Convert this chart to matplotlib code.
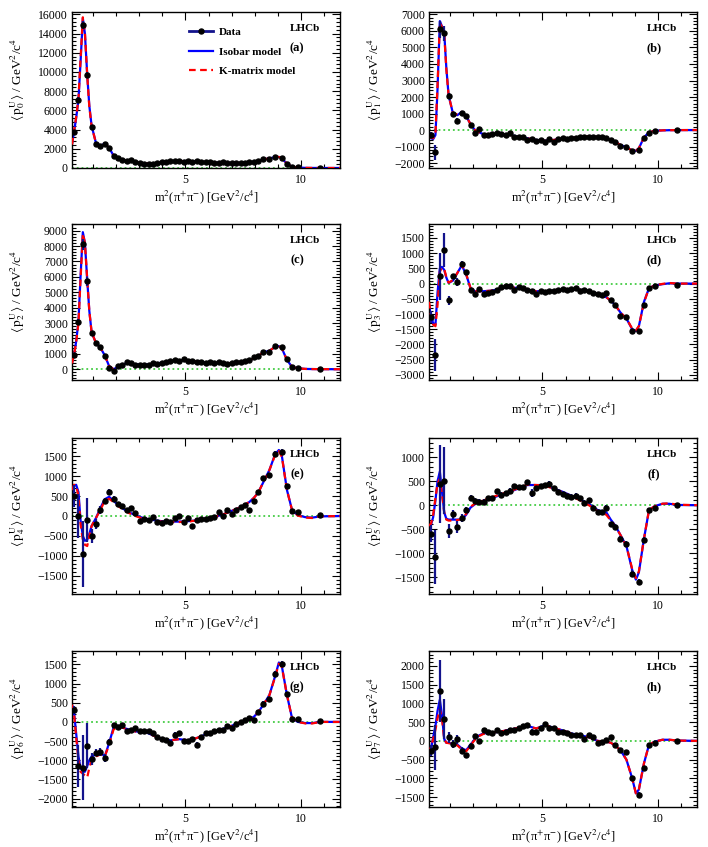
import matplotlib.pyplot as plt
from matplotlib.lines import Line2D
from matplotlib.ticker import MultipleLocator

plt.rcParams['font.family'] = ['Liberation Serif', 'DejaVu Serif']
plt.rcParams['mathtext.fontset'] = 'stix'

# bin centres of the data points [GeV^2/c^4]
m2_data = [0.17, 0.36, 0.55, 0.74, 0.93, 1.12, 1.31, 1.50, 1.69, 1.88,
           2.07, 2.26, 2.45, 2.64, 2.83, 3.02, 3.21, 3.40, 3.59, 3.78,
           3.97, 4.16, 4.35, 4.54, 4.73, 4.92, 5.11, 5.30, 5.49, 5.68,
           5.87, 6.06, 6.25, 6.44, 6.63, 6.82, 7.01, 7.20, 7.39, 7.58,
           7.77, 7.96, 8.15, 8.38, 8.64, 8.89, 9.18, 9.40, 9.62, 9.87,
           10.84]

# points where the model curves are drawn
m2_model = [0.08, 0.17, 0.26, 0.36, 0.45, 0.55, 0.64, 0.74, 0.83, 0.93,
            1.12, 1.31, 1.50, 1.69, 1.88, 2.07, 2.26, 2.45, 2.83, 3.21,
            3.59, 3.97, 4.35, 4.73, 5.11, 5.49, 5.87, 6.25, 6.63, 7.01,
            7.39, 7.77, 7.96, 8.15, 8.38, 8.64, 8.89, 9.05, 9.18, 9.40,
            9.62, 9.87, 10.2, 10.5, 10.84, 11.7]

# (a) <P0>
p0_data = [3800, 7100, 14900, 9700, 4300, 2500, 2300, 2550, 2050, 1300,
           1000, 800, 780, 820, 650, 550, 450, 400, 450, 550,
           600, 580, 700, 750, 720, 650, 780, 650, 780, 650,
           600, 580, 550, 560, 600, 520, 500, 520, 500, 520,
           600, 650, 700, 950, 920, 1150, 1050, 450, 150, 80,
           40]
p0_err = [150, 250, 400, 300, 150, 120, 100, 100, 100, 80,
          70, 70, 70, 70, 70, 70, 70, 70, 70, 70,
          70, 70, 70, 70, 70, 70, 70, 70, 70, 70,
          70, 70, 70, 70, 70, 70, 70, 70, 70, 70,
          70, 70, 80, 90, 90, 100, 100, 80, 50, 40,
          30]
p0_isobar = [2500, 3800, 5200, 7100, 11000, 15600, 14000, 9700, 6500, 4400,
             2600, 2300, 2550, 2100, 1300, 950, 800, 750, 620, 470,
             460, 600, 700, 720, 720, 700, 620, 560, 560, 510,
             510, 580, 640, 720, 900, 1000, 1130, 1150, 1000, 450,
             130, 50, 15, 5, 2, 0]
p0_kmatrix = [2450, 3850, 5300, 7200, 11300, 15700, 14100, 9650, 6400, 4350,
              2600, 2300, 2550, 2100, 1300, 950, 800, 750, 620, 470,
              460, 600, 700, 720, 720, 700, 620, 560, 560, 510,
              510, 580, 640, 720, 900, 1000, 1130, 1150, 1000, 450,
              130, 50, 15, 5, 2, 0]

# (b) <P1>
p1_data = [-300, -1350, 6100, 5850, 2050, 1000, 550, 1050, 850, 300,
           -150, 50, -300, -300, -250, -150, -250, -300, -200, -400,
           -450, -450, -600, -550, -650, -600, -700, -550, -700, -550,
           -500, -550, -500, -500, -450, -400, -400, -400, -450, -450,
           -500, -600, -750, -950, -1000, -1250, -1180, -500, -150, -80,
           -20]
p1_err = [200, 450, 500, 450, 200, 120, 150, 100, 100, 80,
          70, 70, 60, 60, 60, 60, 60, 60, 60, 60,
          60, 60, 60, 60, 60, 60, 60, 60, 60, 60,
          60, 60, 60, 60, 60, 60, 60, 60, 60, 60,
          60, 60, 60, 70, 70, 80, 80, 70, 50, 40,
          30]
p1_isobar = [-400, -500, -550, -300, 2500, 6600, 6300, 5900, 3800, 2100,
             1000, 900, 1100, 850, 350, 0, -150, -250, -250, -250,
             -300, -400, -500, -600, -650, -600, -520, -480, -430, -380,
             -420, -520, -600, -720, -900, -1050, -1230, -1260, -1100, -450,
             -130, -50, -20, -10, -5, 0]
p1_kmatrix = [-350, -450, -500, -200, 2700, 6500, 6250, 5850, 3700, 2100,
              1000, 950, 1100, 850, 350, 0, -150, -250, -250, -250,
              -300, -400, -500, -600, -650, -600, -520, -480, -430, -380,
              -420, -520, -600, -720, -900, -1050, -1230, -1260, -1100, -450,
              -130, -50, -20, -10, -5, 0]

# (c) <P2>
p2_data = [950, 3050, 8100, 5700, 2350, 1700, 1450, 850, 100, -100,
           200, 300, 500, 400, 300, 250, 300, 250, 400, 350,
           400, 500, 550, 600, 550, 650, 550, 550, 500, 450,
           400, 450, 400, 450, 400, 350, 400, 450, 500, 550,
           600, 800, 850, 1150, 1150, 1500, 1450, 650, 150, 100,
           40]
p2_err = [120, 200, 350, 300, 150, 100, 100, 90, 80, 70,
          60, 60, 60, 60, 60, 60, 60, 60, 60, 60,
          60, 60, 60, 60, 60, 60, 60, 60, 60, 60,
          60, 60, 60, 60, 60, 60, 60, 60, 60, 60,
          60, 60, 60, 70, 70, 80, 80, 70, 50, 40,
          30]
p2_isobar = [400, 950, 1800, 3100, 6000, 8900, 8200, 5800, 3800, 2400,
             1700, 1400, 900, 200, 0, 150, 300, 380, 320, 300,
             350, 420, 520, 580, 580, 500, 430, 420, 400, 390,
             450, 580, 700, 850, 1100, 1200, 1450, 1500, 1350, 600,
             150, 60, 20, 10, 5, 0]
p2_kmatrix = [380, 950, 1750, 3000, 5800, 8800, 8200, 5850, 3800, 2400,
              1700, 1400, 900, 200, 0, 150, 300, 380, 320, 300,
              350, 420, 520, 580, 580, 500, 430, 420, 400, 390,
              450, 580, 700, 850, 1100, 1200, 1450, 1500, 1350, 600,
              150, 60, 20, 10, 5, 0]

# (d) <P3>
p3_data = [-1100, -2340, 240, 1100, -550, 240, 50, 640, 370, -210,
           -350, -180, -330, -320, -280, -200, -120, -80, -80, -200,
           -120, -150, -200, -250, -350, -250, -280, -250, -230, -220,
           -180, -200, -180, -150, -250, -200, -250, -300, -350, -380,
           -320, -550, -700, -1050, -1100, -1560, -1560, -700, -150, -80,
           -30]
p3_err = [200, 520, 770, 560, 150, 80, 130, 100, 80, 60,
          50, 50, 50, 50, 50, 50, 50, 50, 50, 50,
          50, 50, 50, 50, 50, 50, 50, 50, 50, 50,
          50, 50, 50, 50, 50, 50, 50, 50, 50, 50,
          50, 50, 50, 60, 60, 70, 70, 60, 50, 40,
          30]
p3_isobar = [-700, -1100, -1300, -1350, -300, 500, 550, 450, 200, 20,
             100, 350, 600, 300, -150, -250, -250, -250, -230, -150,
             -120, -150, -200, -250, -250, -230, -200, -190, -200, -250,
             -330, -450, -560, -700, -950, -1150, -1500, -1560, -1400, -600,
             -150, -60, -20, 10, 0, 0]
p3_kmatrix = [-600, -1050, -1350, -1400, -700, 400, 520, 480, 220, 30,
              120, 350, 620, 320, -150, -250, -250, -250, -230, -150,
              -120, -150, -200, -250, -250, -230, -200, -190, -200, -250,
              -330, -450, -560, -700, -950, -1150, -1480, -1540, -1400, -620,
              -150, -60, -10, 20, 0, 0]

# (e) <P4>
p4_data = [500, 0, -950, -100, -500, -200, 150, 370, 600, 430,
           300, 250, 150, 200, 80, -120, -80, -100, -30, -150,
           -180, -130, -150, -50, 0, -150, -50, -250, -100, -80,
           -70, -50, -20, 100, 0, 150, 50, 150, 230, 280,
           150, 380, 600, 950, 1020, 1560, 1600, 750, 130, 100,
           30]
p4_err = [270, 550, 830, 550, 170, 120, 100, 80, 80, 70,
          50, 50, 50, 50, 50, 50, 50, 50, 50, 50,
          50, 50, 50, 50, 50, 50, 50, 50, 50, 50,
          50, 50, 50, 50, 50, 50, 50, 50, 50, 50,
          50, 50, 50, 60, 60, 70, 70, 60, 50, 40,
          30]
p4_isobar = [600, 750, 780, 600, -100, -500, -620, -600, -450, -250,
             -50, 200, 420, 480, 380, 280, 200, 120, 20, -60,
             -100, -130, -140, -140, -130, -110, -70, -30, 40, 130,
             220, 350, 450, 580, 850, 1150, 1550, 1650, 1500, 650,
             150, 20, -30, -40, -10, 0]
p4_kmatrix = [650, 780, 760, 500, -200, -600, -720, -750, -500, -250,
              -50, 150, 380, 430, 350, 250, 180, 100, 0, -80,
              -120, -140, -150, -150, -140, -110, -70, -30, 40, 130,
              220, 350, 450, 580, 850, 1150, 1530, 1620, 1480, 650,
              150, 10, -40, -50, -10, 0]

# (f) <P5>
p5_data = [-590, -1080, 440, 510, -540, -190, -450, -260, -100, 145,
           90, 70, 70, 145, 140, 290, 220, 250, 300, 400,
           380, 380, 480, 250, 350, 400, 420, 450, 350, 280,
           230, 200, 180, 200, 150, 50, 100, -50, -150, -150,
           -50, -400, -450, -700, -800, -1430, -1600, -730, -100, -50,
           0]
p5_err = [170, 560, 820, 700, 150, 100, 120, 80, 70, 60,
          50, 50, 50, 50, 50, 50, 50, 50, 50, 50,
          50, 50, 50, 80, 50, 50, 50, 50, 50, 50,
          50, 50, 50, 50, 50, 50, 50, 50, 50, 50,
          50, 50, 50, 60, 60, 70, 70, 60, 50, 40,
          30]
p5_isobar = [-450, -400, -250, 100, 500, 700, 300, -150, -280, -300,
             -300, -300, -300, -200, -50, 20, 50, 80, 150, 220,
             280, 350, 420, 420, 420, 350, 280, 200, 120, 30,
             -100, -150, -300, -420, -620, -850, -1350, -1550, -1400, -700,
             -100, -20, 30, 30, 5, 0]
p5_kmatrix = [-430, -380, -200, 150, 450, 550, 250, -150, -300, -320,
              -320, -310, -290, -180, -30, 30, 60, 100, 170, 230,
              290, 360, 430, 420, 410, 340, 270, 190, 100, 0,
              -120, -200, -320, -430, -620, -850, -1330, -1520, -1380, -700,
              -100, -20, 30, 40, 10, 0]

# (g) <P6>
p6_data = [320, -1150, -1190, -625, -965, -800, -780, -950, -530, -90,
           -130, -80, -250, -200, -170, -250, -250, -250, -300, -400,
           -450, -480, -550, -350, -300, -500, -500, -450, -600, -400,
           -300, -300, -250, -200, -200, -100, -150, -50, 0, 50,
           100, 50, 250, 480, 600, 1250, 1520, 730, 80, 80,
           20]
p6_err = [100, 550, 850, 590, 150, 100, 100, 100, 80, 60,
          50, 50, 50, 50, 50, 50, 50, 50, 50, 50,
          50, 50, 50, 80, 50, 50, 50, 50, 80, 50,
          50, 50, 50, 50, 50, 50, 50, 50, 50, 50,
          50, 50, 50, 60, 60, 70, 80, 60, 50, 40,
          30]
p6_isobar = [450, 250, -300, -900, -1200, -1300, -1300, -1150, -1000, -900,
             -850, -800, -900, -550, -150, -100, -150, -180, -250, -250,
             -350, -450, -480, -450, -480, -420, -330, -260, -180, -100,
             0, 80, 130, 250, 450, 700, 1200, 1550, 1450, 700,
             100, 0, -30, -30, 0, 0]
p6_kmatrix = [450, 200, -400, -1000, -1300, -1350, -1400, -1450, -1200, -1000,
              -900, -850, -900, -600, -200, -120, -150, -180, -250, -250,
              -350, -450, -480, -450, -480, -420, -330, -260, -180, -100,
              0, 80, 130, 250, 450, 700, 1180, 1520, 1430, 700,
              100, 0, -40, -40, 0, 0]

# (h) <P7>
p7_data = [-260, -170, 1335, 580, 95, -85, 50, -260, -390, -130,
           140, 10, 300, 250, 200, 300, 200, 250, 300, 300,
           350, 400, 420, 250, 250, 350, 450, 350, 350, 250,
           250, 200, 150, 150, 150, 50, 150, 100, -50, -20,
           20, 100, -100, -250, -300, -1000, -1450, -730, -100, -50,
           0]
p7_err = [150, 600, 820, 530, 150, 100, 120, 100, 80, 70,
          50, 50, 50, 50, 50, 50, 50, 50, 50, 50,
          50, 50, 50, 80, 50, 50, 50, 50, 50, 50,
          50, 50, 50, 50, 50, 50, 50, 50, 50, 50,
          50, 50, 50, 60, 60, 70, 80, 60, 50, 40,
          30]
p7_isobar = [-350, -200, 100, 400, 800, 1100, 700, 50, -50, -50,
             -80, -100, -200, -250, -100, 50, 150, 200, 220, 250,
             300, 350, 400, 330, 420, 350, 280, 200, 150, 100,
             0, -20, -50, -120, -250, -500, -1000, -1400, -1300, -600,
             -100, -20, 30, 30, 10, 0]
p7_kmatrix = [-330, -150, 50, 300, 600, 850, 600, 50, -50, -60,
              -80, -120, -230, -280, -120, 30, 130, 190, 220, 250,
              300, 350, 400, 330, 420, 350, 280, 200, 150, 100,
              0, -20, -50, -120, -250, -500, -1000, -1400, -1300, -600,
              -100, -20, 30, 30, 10, 0]

panels = [
    ('a', 0, p0_data, p0_err, p0_isobar, p0_kmatrix, (0, 16250), 2000),
    ('b', 1, p1_data, p1_err, p1_isobar, p1_kmatrix, (-2300, 7150), 1000),
    ('c', 2, p2_data, p2_err, p2_isobar, p2_kmatrix, (-700, 9430), 1000),
    ('d', 3, p3_data, p3_err, p3_isobar, p3_kmatrix, (-3170, 1960), 500),
    ('e', 4, p4_data, p4_err, p4_isobar, p4_kmatrix, (-1950, 1950), 500),
    ('f', 5, p5_data, p5_err, p5_isobar, p5_kmatrix, (-1850, 1400), 500),
    ('g', 6, p6_data, p6_err, p6_isobar, p6_kmatrix, (-2220, 1850), 500),
    ('h', 7, p7_data, p7_err, p7_isobar, p7_kmatrix, (-1765, 2400), 500),
]

fig = plt.figure(figsize=(7.08, 8.47), dpi=100)
W, H = 708, 847
col_left = [72, 429]
row_top = [12, 224, 438, 651]
ax_w, ax_h = 268, 156

errcol = '#13138c'

for i, (tag, order, ydat, yerr, iso, kmat, ylim, major) in enumerate(panels):
    row, col = divmod(i, 2)
    left = col_left[col] / W
    bottom = 1 - (row_top[row] + ax_h) / H
    ax = fig.add_axes([left, bottom, ax_w / W, ax_h / H])

    ax.axhline(0, color='#44cc44', ls=':', lw=1.3, zorder=1)
    ax.plot(m2_model, iso, color='#0000ff', lw=1.6, zorder=2)
    ax.plot(m2_model, kmat, color='#ff0000', lw=1.6, ls=(0, (3, 2)), zorder=3)
    ax.errorbar(m2_data, ydat, yerr=yerr, fmt='o', ms=3.6, mfc='k', mec='k',
                ecolor=errcol, elinewidth=1.6, capsize=0, zorder=5)

    ax.set_xlim(0.08, 11.7)
    ax.set_ylim(*ylim)
    ax.xaxis.set_major_locator(MultipleLocator(5))
    ax.xaxis.set_minor_locator(MultipleLocator(1))
    ax.yaxis.set_major_locator(MultipleLocator(major))
    ax.yaxis.set_minor_locator(MultipleLocator(major / 5))
    ax.tick_params(which='both', direction='in', top=True, right=True, labelsize=8.5)
    ax.tick_params(which='major', length=6, width=0.8)
    ax.tick_params(which='minor', length=3, width=0.8)
    ax.tick_params(axis='x', pad=4.5)
    ax.tick_params(axis='y', pad=3)
    for sp in ax.spines.values():
        sp.set_linewidth(1.0)

    ax.set_xlabel(r'm$^{2}$(π$^{+}$π$^{-}$) [GeV$^{2}$/c$^{4}$]', fontsize=9)
    ax.xaxis.set_label_coords(0.5, -0.13)
    ax.set_ylabel(r'$\langle\,\mathrm{p}^{\mathrm{U}}_{%d}\rangle$ / GeV$^{2}$/c$^{4}$' % order,
                  fontsize=9.5)
    ax.yaxis.set_label_coords(-0.168, 0.57)

    ax.text(0.87, 0.895, 'LHCb', transform=ax.transAxes, ha='center', va='center',
            fontsize=8, fontweight='bold')
    ax.text(0.84, 0.77, '(%s)' % tag, transform=ax.transAxes, ha='center', va='center',
            fontsize=9, fontweight='bold')

    if tag == 'a':
        handles = [
            Line2D([], [], color=errcol, lw=2, marker='o', ms=3.6, mfc='k', mec='k'),
            Line2D([], [], color='#0000ff', lw=1.6),
            Line2D([], [], color='#ff0000', lw=1.6, ls=(0, (3, 2))),
        ]
        ax.legend(handles, ['Data', 'Isobar model', 'K-matrix model'],
                  loc='upper left', bbox_to_anchor=(0.435, 0.90), frameon=False,
                  prop={'weight': 'bold', 'size': 8}, handlelength=2.2,
                  handletextpad=0.5, labelspacing=0.85, borderpad=0,
                  borderaxespad=0)

fig.savefig('out.png', dpi=100)
